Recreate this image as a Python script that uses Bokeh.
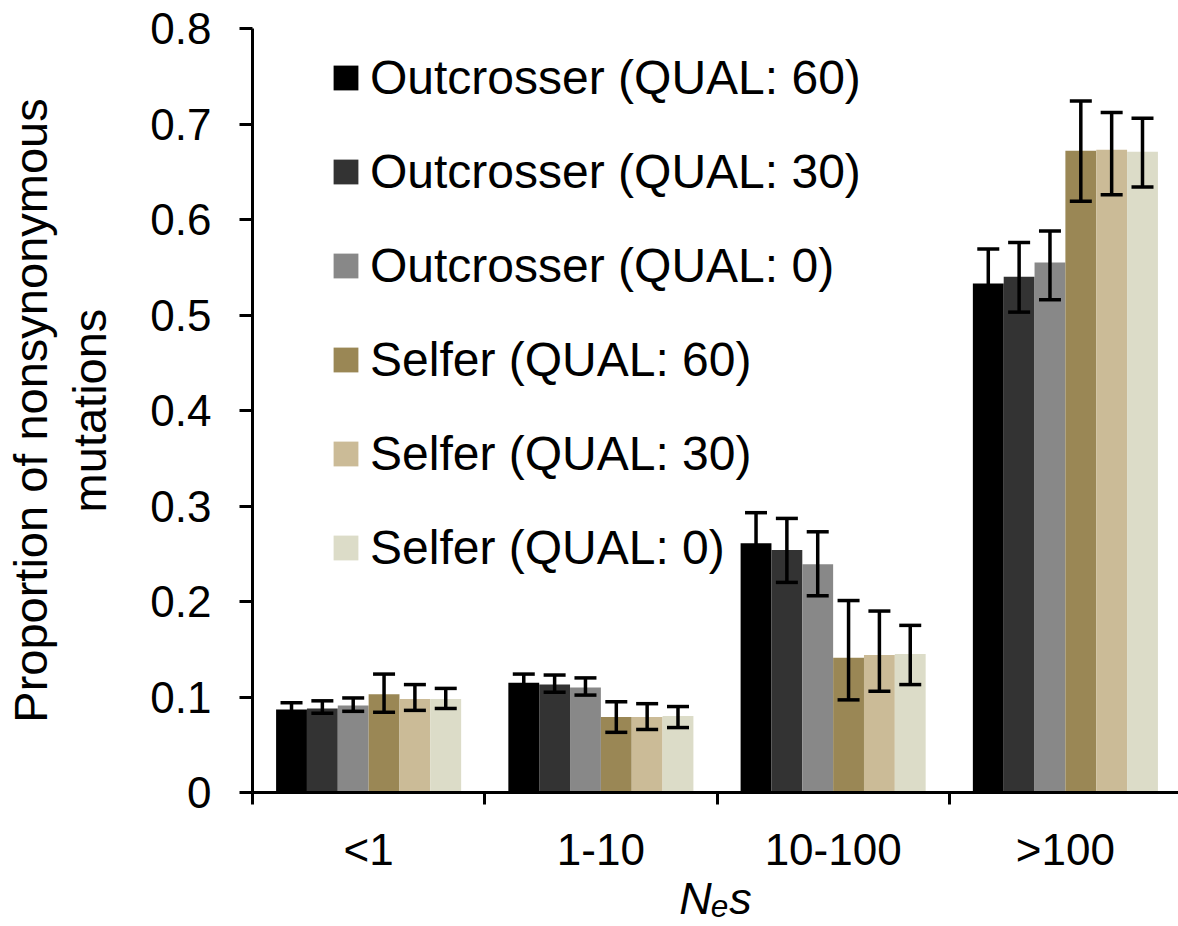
from bokeh.plotting import figure
from bokeh.models import (ColumnDataSource, Range1d, FixedTicker, Whisker, TeeHead,
                          Legend, LegendItem)
from bokeh.embed import file_html
from bokeh.resources import INLINE

# ---------------- data ----------------
categories = ["<1", "1-10", "10-100", ">100"]

series_names = [
    "Outcrosser (QUAL: 60)",
    "Outcrosser (QUAL: 30)",
    "Outcrosser (QUAL: 0)",
    "Selfer (QUAL: 60)",
    "Selfer (QUAL: 30)",
    "Selfer (QUAL: 0)",
]
colors = ["#000000", "#333333", "#888888", "#9A8755", "#CBBB97", "#DCDCC8"]

out60 = [0.087, 0.115, 0.261, 0.533]
out30 = [0.088, 0.113, 0.254, 0.540]
out0 = [0.091, 0.110, 0.239, 0.555]
self60 = [0.103, 0.079, 0.141, 0.672]
self30 = [0.098, 0.079, 0.144, 0.673]
self0 = [0.098, 0.080, 0.145, 0.671]

out60_hi = [0.094, 0.124, 0.293, 0.569]
out30_hi = [0.096, 0.123, 0.287, 0.576]
out0_hi = [0.099, 0.120, 0.273, 0.588]
self60_hi = [0.124, 0.095, 0.201, 0.724]
self30_hi = [0.113, 0.093, 0.190, 0.712]
self0_hi = [0.109, 0.090, 0.175, 0.706]

out60_lo = [0.080, 0.106, 0.229, 0.497]
out30_lo = [0.083, 0.105, 0.220, 0.503]
out0_lo = [0.085, 0.102, 0.206, 0.516]
self60_lo = [0.084, 0.063, 0.097, 0.619]
self30_lo = [0.086, 0.066, 0.106, 0.626]
self0_lo = [0.088, 0.068, 0.113, 0.634]

y_ticks = [0, 0.1, 0.2, 0.3, 0.4, 0.5, 0.6, 0.7, 0.8]
y_tick_labels = ["0", "0.1", "0.2", "0.3", "0.4", "0.5", "0.6", "0.7", "0.8"]

y_title = "Proportion of nonsynonymous\nmutations"
x_title = "N\u2091s"

all_values = [out60, out30, out0, self60, self30, self0]
all_hi = [out60_hi, out30_hi, out0_hi, self60_hi, self30_hi, self0_hi]
all_lo = [out60_lo, out30_lo, out0_lo, self60_lo, self30_lo, self0_lo]

# ---------------- figure ----------------
FONT = "Liberation Sans"
bar_w = 0.1328

p = figure(width=1178, height=926,
           x_range=Range1d(0, 3.987), y_range=Range1d(0, 0.8),
           output_backend="svg", toolbar_location=None,
           min_border_left=247, min_border_right=0,
           min_border_top=28, min_border_bottom=132)
p.outline_line_color = None
p.xgrid.grid_line_color = None
p.ygrid.grid_line_color = None
p.background_fill_color = "white"
p.border_fill_color = "white"

items = []
for j, (name, col, vals, hi, lo) in enumerate(zip(series_names, colors, all_values, all_hi, all_lo)):
    xs = [i + 0.5 + (j - 2.5) * bar_w for i in range(len(categories))]
    src = ColumnDataSource(dict(x=xs, top=vals, upper=hi, lower=lo))
    r = p.vbar(x="x", top="top", bottom=0, width=bar_w, source=src,
               fill_color=col, line_color=None)
    items.append(LegendItem(label=name, renderers=[r]))
    w = Whisker(source=src, base="x", upper="upper", lower="lower",
                line_color="black", line_width=3.5, level="annotation",
                upper_head=TeeHead(size=22, line_width=3.5, line_color="black"),
                lower_head=TeeHead(size=22, line_width=3.5, line_color="black"))
    p.add_layout(w)

# x axis
xa = p.xaxis[0]
xa.ticker = FixedTicker(ticks=[i + 0.5 for i in range(len(categories))],
                        minor_ticks=list(range(len(categories) + 1)))
xa.major_label_overrides = {i + 0.5: c for i, c in enumerate(categories)}
xa.major_tick_line_color = None
xa.major_tick_out = 0
xa.major_tick_in = 0
xa.minor_tick_line_color = "black"
xa.minor_tick_line_width = 3
xa.minor_tick_out = 12
xa.minor_tick_in = 0
xa.axis_line_width = 3
xa.axis_line_color = "black"
xa.major_label_text_font = FONT
xa.major_label_text_font_size = "44px"
xa.major_label_text_color = "black"
xa.major_label_standoff = 20
xa.axis_label = x_title
xa.axis_label_text_font = FONT
xa.axis_label_text_font_style = "italic"
xa.axis_label_text_font_size = "45px"
xa.axis_label_text_color = "black"
xa.axis_label_standoff = -4

# y axis
ya = p.yaxis[0]
ya.ticker = FixedTicker(ticks=y_ticks, minor_ticks=[])
ya.major_label_overrides = {t: l for t, l in zip(y_ticks, y_tick_labels)}
ya.major_tick_line_width = 3
ya.major_tick_line_color = "black"
ya.major_tick_out = 13
ya.major_tick_in = 0
ya.minor_tick_line_color = None
ya.axis_line_width = 3
ya.axis_line_color = "black"
ya.major_label_text_font = FONT
ya.major_label_text_font_size = "44px"
ya.major_label_text_color = "black"
ya.major_label_standoff = 28
ya.axis_label = y_title
ya.axis_label_text_font = FONT
ya.axis_label_text_font_style = "normal"
ya.axis_label_text_font_size = "47px"
ya.axis_label_text_color = "black"
ya.axis_label_text_line_height = 1.12
ya.axis_label_standoff = 31

legend = Legend(items=items, location=(78, 216),
                label_text_font=FONT, label_text_font_size="48px",
                label_text_color="black",
                glyph_width=31, glyph_height=31, label_height=57,
                label_standoff=9, spacing=37, padding=0, margin=0,
                border_line_color=None, background_fill_alpha=0)
p.add_layout(legend)

open("out.html", "w").write(file_html(p, INLINE))
